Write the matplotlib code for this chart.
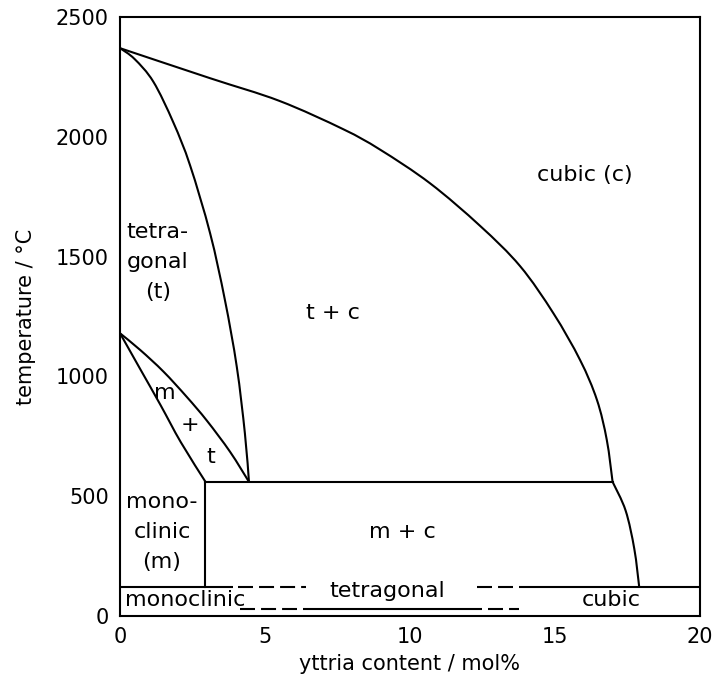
import matplotlib
matplotlib.use("Agg")
import matplotlib.pyplot as plt
from matplotlib.path import Path
from matplotlib.patches import PathPatch

# phase boundaries of the ZrO2 - Y2O3 system, (mol% Y2O3, temperature in C)
cubic_x = [0, 3.1, 5.5, 7.7, 8.97, 10.7, 12.43, 13.81, 14.96, 15.88, 16.46, 16.8, 17.0]
cubic_t = [2370, 2245, 2150, 2032, 1947, 1806, 1628, 1460, 1263, 1068, 902, 735, 560]

cubic_low_x = [17.0, 17.45, 17.75, 17.92]
cubic_low_t = [560, 440, 280, 120]

tetra_x = [0, 0.5, 1.15, 1.84, 2.42, 3.11, 3.62, 4.03, 4.31, 4.45]
tetra_t = [2370, 2325, 2230, 2060, 1880, 1597, 1319, 1040, 762, 560]

mt_upper_x = [0, 0.7, 1.5, 2.3, 3.0, 3.8, 4.45]
mt_upper_t = [1180, 1110, 1020, 915, 815, 685, 560]

mt_lower_x = [0, 0.7, 1.4, 2.1, 2.95]
mt_lower_t = [1180, 1030, 880, 725, 560]

eutectoid_t = 560
eutectoid_x = [2.95, 17.0]
mono_edge_x = 2.95

# metastable region at low temperature
upper_t = 120
lower_t = 30
upper_solid = [(0, 3.9), (13.77, 20)]
upper_dashed = [(4.07, 6.42), (12.32, 13.57)]
lower_solid = [(6.32, 12.48)]
lower_dashed = [(4.14, 6.11), (12.7, 13.77)]

lw = 1.5
dash = (0, (7.2, 2.9))
fs = 15
fs_region = 16


def smooth_curve(ax, xs, ys):
    # catmull-rom through the points, drawn as cubic beziers in display space
    pts = ax.transData.transform(list(zip(xs, ys)))
    verts = [pts[0]]
    codes = [Path.MOVETO]
    n = len(pts)
    for i in range(n - 1):
        p0 = pts[max(i - 1, 0)]
        p1 = pts[i]
        p2 = pts[i + 1]
        p3 = pts[min(i + 2, n - 1)]
        c1 = p1 + (p2 - p0) / 6.0
        c2 = p2 - (p3 - p1) / 6.0
        verts += [c1, c2, p2]
        codes += [Path.CURVE4] * 3
    verts = ax.transData.inverted().transform(verts)
    ax.add_patch(PathPatch(Path(verts, codes), fill=False, edgecolor='black', lw=lw))


plt.rcParams['font.family'] = ['DejaVu Sans']
plt.rcParams['font.size'] = fs

fig = plt.figure(figsize=(7.17, 6.84), dpi=100)
ax = fig.add_axes([0.1674, 0.0994, 0.8082, 0.8757])
ax.set_xlim(0, 20)
ax.set_ylim(0, 2500)

smooth_curve(ax, cubic_x, cubic_t)
smooth_curve(ax, cubic_low_x, cubic_low_t)
smooth_curve(ax, tetra_x, tetra_t)
smooth_curve(ax, mt_upper_x, mt_upper_t)
smooth_curve(ax, mt_lower_x, mt_lower_t)
ax.plot(eutectoid_x, [eutectoid_t, eutectoid_t], color='black', lw=lw)
ax.plot([mono_edge_x, mono_edge_x], [upper_t, eutectoid_t], color='black', lw=lw)

for x0, x1 in upper_solid:
    ax.plot([x0, x1], [upper_t, upper_t], color='black', lw=lw, solid_capstyle='butt')
for x0, x1 in upper_dashed:
    ax.plot([x0, x1], [upper_t, upper_t], color='black', lw=lw, linestyle=dash)
for x0, x1 in lower_solid:
    ax.plot([x0, x1], [lower_t, lower_t], color='black', lw=lw, solid_capstyle='butt')
for x0, x1 in lower_dashed:
    ax.plot([x0, x1], [lower_t, lower_t], color='black', lw=lw, linestyle=dash)

# region labels
kw = dict(ha='center', va='center', fontsize=fs_region)
ax.text(16.05, 1840, 'cubic (c)', **kw)
ax.text(1.3, 1477, 'tetra-\ngonal\n(t)', linespacing=1.62, **kw)
ax.text(7.35, 1265, 't + c', **kw)
ax.text(1.55, 931, 'm', **kw)
ax.text(2.42, 797, '+', **kw)
ax.text(3.14, 664, 't', **kw)
ax.text(1.45, 351, 'mono-\nclinic\n(m)', linespacing=1.62, **kw)
ax.text(9.73, 351, 'm + c', **kw)
ax.text(9.23, 105, 'tetragonal', **kw)
ax.text(0.17, 67, 'monoclinic', ha='left', va='center', fontsize=fs_region)
ax.text(16.95, 67, 'cubic', **kw)

ax.set_xticks([0, 5, 10, 15, 20])
ax.set_yticks([0, 500, 1000, 1500, 2000, 2500])
ax.tick_params(length=0, pad=8)
for s in ax.spines.values():
    s.set_linewidth(lw)

ax.set_xlabel('yttria content / mol%', labelpad=5)
ax.set_ylabel('temperature / °C', labelpad=14.5)

fig.savefig('out.png', dpi=100)
